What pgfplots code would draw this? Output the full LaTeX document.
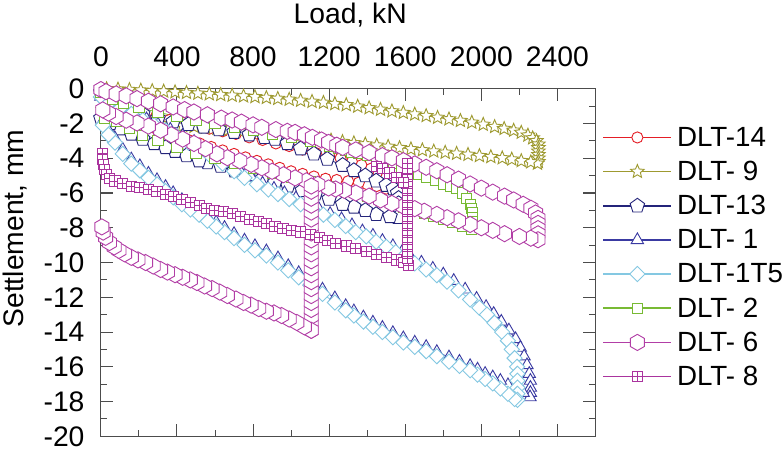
\documentclass[border=0pt]{standalone}
\usepackage{fontspec}
\setmainfont{Liberation Sans}
\usepackage{pgfplots}
\pgfplotsset{compat=1.18}
\usetikzlibrary{plotmarks}

% hollow marks as drawn by the original software
\pgfdeclareplotmark{hexa}{%
  \pgfpathmoveto{\pgfpointpolar{90}{\pgfplotmarksize}}%
  \pgfpathlineto{\pgfpointpolar{150}{\pgfplotmarksize}}%
  \pgfpathlineto{\pgfpointpolar{210}{\pgfplotmarksize}}%
  \pgfpathlineto{\pgfpointpolar{270}{\pgfplotmarksize}}%
  \pgfpathlineto{\pgfpointpolar{330}{\pgfplotmarksize}}%
  \pgfpathlineto{\pgfpointpolar{30}{\pgfplotmarksize}}%
  \pgfpathclose\pgfusepathqfillstroke}
\pgfdeclareplotmark{ostar}{%
  \pgfpathmoveto{\pgfpointpolar{90}{\pgfplotmarksize}}%
  \pgfpathlineto{\pgfpointpolar{126}{0.45\pgfplotmarksize}}%
  \pgfpathlineto{\pgfpointpolar{162}{\pgfplotmarksize}}%
  \pgfpathlineto{\pgfpointpolar{198}{0.45\pgfplotmarksize}}%
  \pgfpathlineto{\pgfpointpolar{234}{\pgfplotmarksize}}%
  \pgfpathlineto{\pgfpointpolar{270}{0.45\pgfplotmarksize}}%
  \pgfpathlineto{\pgfpointpolar{306}{\pgfplotmarksize}}%
  \pgfpathlineto{\pgfpointpolar{342}{0.45\pgfplotmarksize}}%
  \pgfpathlineto{\pgfpointpolar{18}{\pgfplotmarksize}}%
  \pgfpathlineto{\pgfpointpolar{54}{0.45\pgfplotmarksize}}%
  \pgfpathclose\pgfusepathqfillstroke}
\pgfdeclareplotmark{odiam}{%
  \pgfpathmoveto{\pgfqpoint{0pt}{\pgfplotmarksize}}%
  \pgfpathlineto{\pgfqpoint{\pgfplotmarksize}{0pt}}%
  \pgfpathlineto{\pgfqpoint{0pt}{-\pgfplotmarksize}}%
  \pgfpathlineto{\pgfqpoint{-\pgfplotmarksize}{0pt}}%
  \pgfpathclose\pgfusepathqfillstroke}
\pgfdeclareplotmark{boxplus}{%
  \pgfpathrectangle{\pgfqpoint{-\pgfplotmarksize}{-\pgfplotmarksize}}{\pgfqpoint{2\pgfplotmarksize}{2\pgfplotmarksize}}%
  \pgfusepathqfillstroke
  \pgfpathmoveto{\pgfqpoint{-\pgfplotmarksize}{0pt}}\pgfpathlineto{\pgfqpoint{\pgfplotmarksize}{0pt}}%
  \pgfpathmoveto{\pgfqpoint{0pt}{-\pgfplotmarksize}}\pgfpathlineto{\pgfqpoint{0pt}{\pgfplotmarksize}}%
  \pgfusepathqstroke}

\definecolor{cA}{RGB}{228,30,38}
\definecolor{cB}{RGB}{158,154,48}
\definecolor{cC}{RGB}{36,36,122}
\definecolor{cD}{RGB}{58,58,162}
\definecolor{cE}{RGB}{132,200,226}
\definecolor{cF}{RGB}{120,186,52}
\definecolor{cG}{RGB}{178,62,166}
\definecolor{cH}{RGB}{170,52,158}

\newcommand{\bigfont}{\fontsize{28}{33}\selectfont}
\newcommand{\legfont}{\fontsize{27.5}{33}\selectfont}

\begin{document}
\begin{tikzpicture}
\begin{axis}[
  scale only axis,
  width=488bp, height=343bp,
  xmin=0, xmax=2600, ymin=-20, ymax=0,
  xtick={0,400,...,2400}, minor x tick num=1,
  ytick={-20,-18,...,0}, minor y tick num=1,
  xticklabel pos=right,
  tick align=inside,
  major tick length=12bp, minor tick length=6bp,
  every tick/.style={black!70, line width=1bp},
  axis line style={black!70, line width=1.2bp},
  scaled ticks=false,
  /pgf/number format/1000 sep={},
  /pgf/number format/assume math mode=true,
  tick label style={font=\bigfont},
  xticklabel style={anchor=base, yshift=22bp},
  yticklabel style={anchor=east, inner xsep=0pt, inner ysep=5bp, xshift=-16bp},
  label style={font=\bigfont},
  xlabel={Load, kN},
  xlabel style={at={(axis description cs:0.5,1)}, anchor=base, yshift=64bp, xshift=2bp},
  ylabel={Settlement, mm},
  ylabel style={at={(axis description cs:0,0.598)}, anchor=base, yshift=76bp},
  legend style={at={(axis description cs:1,0.89)}, anchor=north west, xshift=7bp,
    draw=none, fill=none, inner sep=0pt, row sep=13.2bp, font=\legfont,
    nodes={inner sep=0pt},
    /tikz/every odd column/.append style={column sep=5bp}},
  legend cell align=left,
  legend image code/.code={\draw[mark repeat=2,mark phase=2, line width=1.3bp] plot coordinates {(0bp,0bp)(33.5bp,0bp)(67bp,0bp)};},
  every axis plot/.append style={line width=0.8bp, mark options={solid, fill=white, line width=0.9bp}},
]

% DLT-14
\addplot[cA, mark=*, mark size=5.5bp] coordinates {
(0,-0.1)(50,-0.6)(100,-0.9)(160,-1.15)(220,-1.4)(290,-1.6)(360,-1.8)(430,-1.95)(500,-2.1)(570,-2.3)
(640,-2.45)(710,-2.6)(780,-2.8)(850,-2.95)(920,-3.15)(990,-3.3)(1060,-3.5)(1130,-3.7)(1200,-3.85)
(1260,-4.0)(1320,-4.2)(1370,-4.4)(1420,-4.6)(1460,-4.85)(1500,-5.1)(1530,-5.4)(1550,-5.7)(1560,-6.0)
(1545,-5.9)(1500,-5.75)(1450,-5.6)(1400,-5.5)(1356,-5.4)(1300,-5.32)(1240,-5.25)(1181,-5.18)
(1120,-5.05)(1060,-4.9)(1000,-4.75)(940,-4.55)(880,-4.35)(820,-4.15)(760,-3.95)(700,-3.75)
(640,-3.55)(580,-3.35)(520,-3.15)(460,-2.95)(400,-2.7)(340,-2.5)(280,-2.25)(220,-2.0)(160,-1.75)
(110,-1.5)(70,-1.25)(40,-0.95)(20,-0.6)};
\addlegendentry{DLT-14}

% DLT-9
\addplot[cB, mark=ostar, mark size=7bp] coordinates {
(30,-0.01)(90,-0.03)(150,-0.06)(210,-0.09)(270,-0.12)(330,-0.15)(390,-0.19)(450,-0.23)(510,-0.27)
(570,-0.31)(630,-0.35)(690,-0.39)(750,-0.43)(810,-0.47)(870,-0.52)(930,-0.57)(990,-0.62)(1050,-0.68)
(1110,-0.74)(1170,-0.8)(1230,-0.87)(1290,-0.93)(1350,-1.02)(1410,-1.11)(1470,-1.2)(1530,-1.29)
(1590,-1.38)(1650,-1.47)(1710,-1.56)(1770,-1.66)(1830,-1.75)(1890,-1.84)(1950,-1.94)(2010,-2.06)
(2070,-2.19)(2120,-2.3)(2170,-2.4)(2210,-2.52)(2245,-2.68)(2270,-2.84)(2290,-3.0)(2300,-3.2)
(2300,-3.4)(2300,-3.6)(2300,-3.8)(2300,-4.0)(2300,-4.2)(2295,-4.3)
(2260,-4.22)(2210,-4.15)(2160,-4.06)(2110,-3.99)(2050,-3.92)(1990,-3.86)(1930,-3.79)(1870,-3.73)
(1810,-3.67)(1750,-3.6)(1690,-3.53)(1630,-3.47)(1570,-3.4)(1510,-3.33)(1450,-3.26)(1390,-3.19)
(1330,-3.12)(1270,-3.05)(1210,-2.97)(1150,-2.89)(1090,-2.82)(1030,-2.76)(970,-2.69)(910,-2.62)
(850,-2.56)(790,-2.49)(730,-2.43)(670,-2.36)(610,-2.29)(550,-2.23)(490,-2.18)(430,-2.13)(370,-2.08)
(310,-2.02)(250,-1.94)(190,-1.83)(140,-1.7)(90,-1.52)(50,-1.35)(10,-1.2)};
\addlegendentry{DLT- 9}

% DLT-13
\addplot[cC, mark=pentagon*, mark size=7.5bp] coordinates {
(0,-0.2)(50,-0.7)(100,-1.0)(150,-1.2)(220,-1.45)(300,-1.7)(380,-1.9)(460,-2.05)(540,-2.2)(620,-2.35)
(700,-2.5)(780,-2.65)(860,-2.8)(915,-2.9)(980,-3.15)(1050,-3.45)(1120,-3.75)(1190,-4.05)(1271,-4.4)
(1330,-4.7)(1390,-5.0)(1447,-5.3)(1500,-5.55)(1537,-5.75)(1560,-6.0)(1565,-6.3)
(1565,-6.6)(1565,-6.9)(1565,-7.2)(1560,-7.4)
(1520,-7.35)(1447,-7.23)(1390,-7.0)(1330,-6.8)(1271,-6.65)(1200,-6.35)(1128,-6.05)(1060,-5.85)
(984,-5.6)(915,-5.4)(846,-5.2)(775,-4.95)(702,-4.72)(630,-4.45)(560,-4.25)(516,-4.14)(450,-3.85)
(390,-3.6)(340,-3.38)(280,-3.15)(220,-2.9)(160,-2.6)(100,-2.3)(50,-2.0)(0,-1.7)};
\addlegendentry{DLT-13}

% DLT-1
\addplot[cD, mark=triangle*, mark size=7bp] coordinates {
(0,-0.45)(45,-0.8)(110,-1.1)(175,-1.4)(240,-1.75)(300,-2.05)(365,-2.35)(430,-2.7)(490,-3.05)
(550,-3.45)(610,-3.85)(670,-4.25)(730,-4.7)(790,-5.08)(850,-5.45)(910,-5.75)(965,-6.0)(1025,-6.3)
(1085,-6.6)(1145,-6.9)(1205,-7.2)(1265,-7.5)(1320,-7.85)(1375,-8.2)(1430,-8.45)(1480,-8.75)
(1535,-9.05)(1585,-9.35)(1625,-9.63)(1685,-10.0)(1745,-10.35)(1800,-10.68)(1855,-11.05)(1915,-11.55)
(1975,-12.08)(2025,-12.55)(2065,-12.95)(2105,-13.4)(2145,-13.9)(2180,-14.4)(2205,-14.9)(2225,-15.4)
(2240,-15.9)(2252,-16.4)(2258,-16.8)(2258,-17.2)(2258,-17.5)(2256,-17.75)
(2220,-17.5)(2180,-17.3)(2140,-17.05)(2100,-16.8)(2060,-16.6)(2020,-16.4)(1980,-16.15)(1941,-15.95)
(1885,-15.7)(1830,-15.45)(1766,-15.14)(1710,-14.85)(1650,-14.6)(1590,-14.35)(1535,-14.05)(1480,-13.75)
(1430,-13.45)(1380,-13.15)(1330,-12.8)(1287,-12.5)(1230,-12.05)(1165,-11.55)(1100,-11.05)(1040,-10.6)
(985,-10.2)(931,-9.75)(870,-9.35)(810,-9.05)(755,-8.73)(700,-8.35)(650,-8.0)(606,-7.68)(560,-7.35)
(516,-7.0)(470,-6.7)(426,-6.4)(380,-6.0)(340,-5.64)(295,-5.25)(250,-4.88)(205,-4.45)(160,-4.06)
(115,-3.5)(74,-2.85)(40,-2.4)(10,-1.85)};
\addlegendentry{DLT- 1}

% DLT-1T5
\addplot[cE, mark=odiam, mark size=7.5bp] coordinates {
(0,-0.47)(40,-0.85)(100,-1.15)(160,-1.45)(220,-1.8)(280,-2.1)(340,-2.4)(400,-2.75)(460,-3.1)
(520,-3.5)(580,-3.9)(640,-4.3)(700,-4.75)(755,-5.13)(820,-5.5)(880,-5.8)(931,-6.06)(990,-6.35)
(1050,-6.65)(1112,-6.95)(1170,-7.25)(1230,-7.55)(1287,-7.9)(1340,-8.25)(1395,-8.5)(1447,-8.8)
(1500,-9.1)(1550,-9.4)(1590,-9.68)(1650,-10.05)(1710,-10.4)(1766,-10.73)(1820,-11.1)(1880,-11.6)
(1941,-12.13)(1990,-12.6)(2030,-13.0)(2069,-13.47)(2110,-14.0)(2140,-14.5)(2160,-15.0)(2175,-15.5)
(2188,-16.0)(2190,-16.4)(2190,-16.8)(2190,-17.2)(2190,-17.55)(2190,-17.9)
(2175,-17.85)(2140,-17.55)(2100,-17.25)(2060,-16.95)(2020,-16.7)(1980,-16.45)(1941,-16.2)(1885,-15.95)
(1830,-15.7)(1766,-15.39)(1710,-15.1)(1650,-14.85)(1590,-14.6)(1535,-14.3)(1480,-14.0)(1430,-13.7)
(1380,-13.4)(1330,-13.05)(1287,-12.75)(1230,-12.3)(1165,-11.8)(1100,-11.3)(1040,-10.85)(985,-10.45)
(931,-10.0)(870,-9.6)(810,-9.3)(755,-8.98)(700,-8.6)(650,-8.25)(606,-7.93)(560,-7.6)(516,-7.25)
(470,-6.95)(426,-6.65)(380,-6.25)(340,-5.89)(295,-5.5)(250,-5.13)(205,-4.7)(160,-4.31)(115,-3.75)
(74,-3.1)(40,-2.65)(10,-2.1)};
\addlegendentry{DLT-1T5}

% DLT-2
\addplot[cF, mark=square*, mark size=5bp] coordinates {
(0,-0.2)(60,-0.6)(120,-0.85)(200,-1.1)(300,-1.35)(400,-1.6)(500,-1.8)(600,-2.0)(700,-2.2)(800,-2.4)
(900,-2.6)(1000,-2.8)(1100,-3.05)(1200,-3.3)(1250,-3.45)(1287,-3.56)(1320,-3.65)(1356,-3.73)(1400,-3.85)
(1447,-3.96)(1490,-4.1)(1537,-4.3)(1580,-4.5)(1622,-4.72)(1670,-4.95)(1713,-5.13)(1760,-5.3)
(1803,-5.48)(1840,-5.62)(1872,-5.75)(1900,-6.0)(1920,-6.3)(1941,-6.65)
(1950,-6.9)(1952,-7.15)(1952,-7.4)(1952,-7.65)(1952,-7.9)(1948,-8.1)
(1900,-7.9)(1850,-7.7)(1800,-7.5)(1750,-7.35)(1700,-7.2)(1650,-7.0)(1590,-6.8)(1530,-6.6)(1470,-6.4)
(1400,-6.2)(1300,-5.9)(1200,-5.6)(1100,-5.35)(1000,-5.1)(900,-4.85)(800,-4.6)(700,-4.3)(600,-4.0)
(500,-3.7)(400,-3.35)(300,-3.0)(220,-2.7)(150,-2.3)(80,-1.9)(20,-1.7)};
\addlegendentry{DLT- 2}

% DLT-6
\addplot[cG, mark=hexa, mark size=8bp] coordinates {
(0,-0.05)(27,-0.17)(80,-0.3)(133,-0.41)(190,-0.57)(250,-0.72)(314,-0.87)(380,-1.05)(440,-1.2)
(489,-1.34)(560,-1.5)(633,-1.69)(690,-1.8)(739,-1.92)(800,-2.08)(846,-2.22)(920,-2.35)(980,-2.45)
(1021,-2.51)(1070,-2.65)(1112,-2.8)(1160,-2.95)(1197,-3.09)(1240,-3.25)(1271,-3.38)(1340,-3.52)
(1410,-3.67)(1480,-3.85)(1530,-3.98)(1590,-4.14)(1650,-4.33)(1710,-4.52)(1766,-4.72)(1820,-4.95)
(1880,-5.2)(1941,-5.48)(2000,-5.72)(2060,-5.95)(2122,-6.18)(2170,-6.4)(2220,-6.65)(2261,-6.88)
(2285,-7.15)(2298,-7.46)(2298,-7.75)(2298,-8.05)(2298,-8.35)(2298,-8.69)
(2260,-8.6)(2200,-8.5)(2122,-8.34)(2060,-8.15)(2000,-8.0)(1941,-7.81)(1880,-7.6)(1820,-7.42)
(1766,-7.23)(1700,-7.05)(1650,-6.9)(1590,-6.76)(1530,-6.6)(1470,-6.4)(1410,-6.18)(1340,-6.0)
(1280,-5.85)(1234,-5.77)(1197,-5.71)(1140,-5.5)(1080,-5.3)(1021,-5.13)(960,-4.95)(900,-4.75)
(846,-4.55)(790,-4.35)(730,-4.15)(665,-3.97)(610,-3.75)(550,-3.45)(489,-3.15)(430,-2.9)(370,-2.65)
(314,-2.39)(250,-2.15)(190,-1.97)(133,-1.81)(80,-1.6)(40,-1.4)(10,-1.22)};
\addlegendentry{DLT- 6}
\addplot[cG, mark=hexa, mark size=8bp, forget plot] coordinates {
(1106,-13.9)(1106,-13.5)(1106,-13.1)(1106,-12.7)(1106,-12.3)(1106,-11.9)(1106,-11.5)(1106,-11.1)
(1106,-10.7)(1106,-10.3)(1106,-9.9)(1106,-9.5)(1106,-9.1)(1106,-8.7)(1106,-8.3)(1106,-7.9)
(1106,-7.5)(1106,-7.1)(1106,-6.7)(1106,-6.3)(1106,-5.9)(1106,-5.6)};
\addplot[cG, mark=hexa, mark size=8bp, forget plot] coordinates {
(1106,-13.9)(1070,-13.7)(1030,-13.45)(990,-13.25)(950,-13.05)(910,-12.9)(870,-12.8)(830,-12.65)
(790,-12.45)(750,-12.3)(710,-12.1)(665,-11.9)(625,-11.7)(585,-11.5)(545,-11.35)(505,-11.15)(470,-11.0)
(430,-10.85)(390,-10.7)(350,-10.55)(314,-10.4)(275,-10.2)(235,-10.0)(195,-9.85)(160,-9.7)(125,-9.5)
(95,-9.3)(70,-9.1)(45,-8.85)(25,-8.55)(12,-8.25)(5,-7.95)};

% DLT-8
\addplot[cH, mark=boxplus, mark size=5bp] coordinates {
(8,-3.75)(10,-4.05)(13,-4.35)(18,-4.65)(28,-4.95)(45,-5.15)(74,-5.31)(115,-5.45)(160,-5.6)(205,-5.7)
(250,-5.8)(295,-5.92)(340,-6.06)(383,-6.22)(426,-6.38)(470,-6.55)(516,-6.72)(556,-6.88)(596,-7.0)
(645,-7.08)(691,-7.2)(736,-7.35)(782,-7.5)(827,-7.62)(872,-7.76)(915,-7.9)(957,-8.03)(1003,-8.13)
(1048,-8.24)(1101,-8.4)(1150,-8.58)(1190,-8.72)(1234,-8.9)(1290,-9.05)(1340,-9.21)(1395,-9.38)
(1447,-9.56)(1500,-9.7)(1553,-9.85)(1590,-10.0)(1618,-10.15)
(1612,-9.75)(1612,-9.35)(1612,-8.95)(1612,-8.55)(1612,-8.15)(1612,-7.75)(1612,-7.35)(1612,-6.95)
(1612,-6.55)(1612,-6.15)(1612,-5.75)(1612,-5.35)(1612,-4.95)(1612,-4.6)(1612,-4.3)};
\addlegendentry{DLT- 8}
\addplot[cH, mark=boxplus, mark size=5bp, forget plot] coordinates {
(1447,-4.45)(1480,-4.6)(1516,-4.85)(1553,-5.1)(1590,-5.4)};

\end{axis}
\end{tikzpicture}
\end{document}
